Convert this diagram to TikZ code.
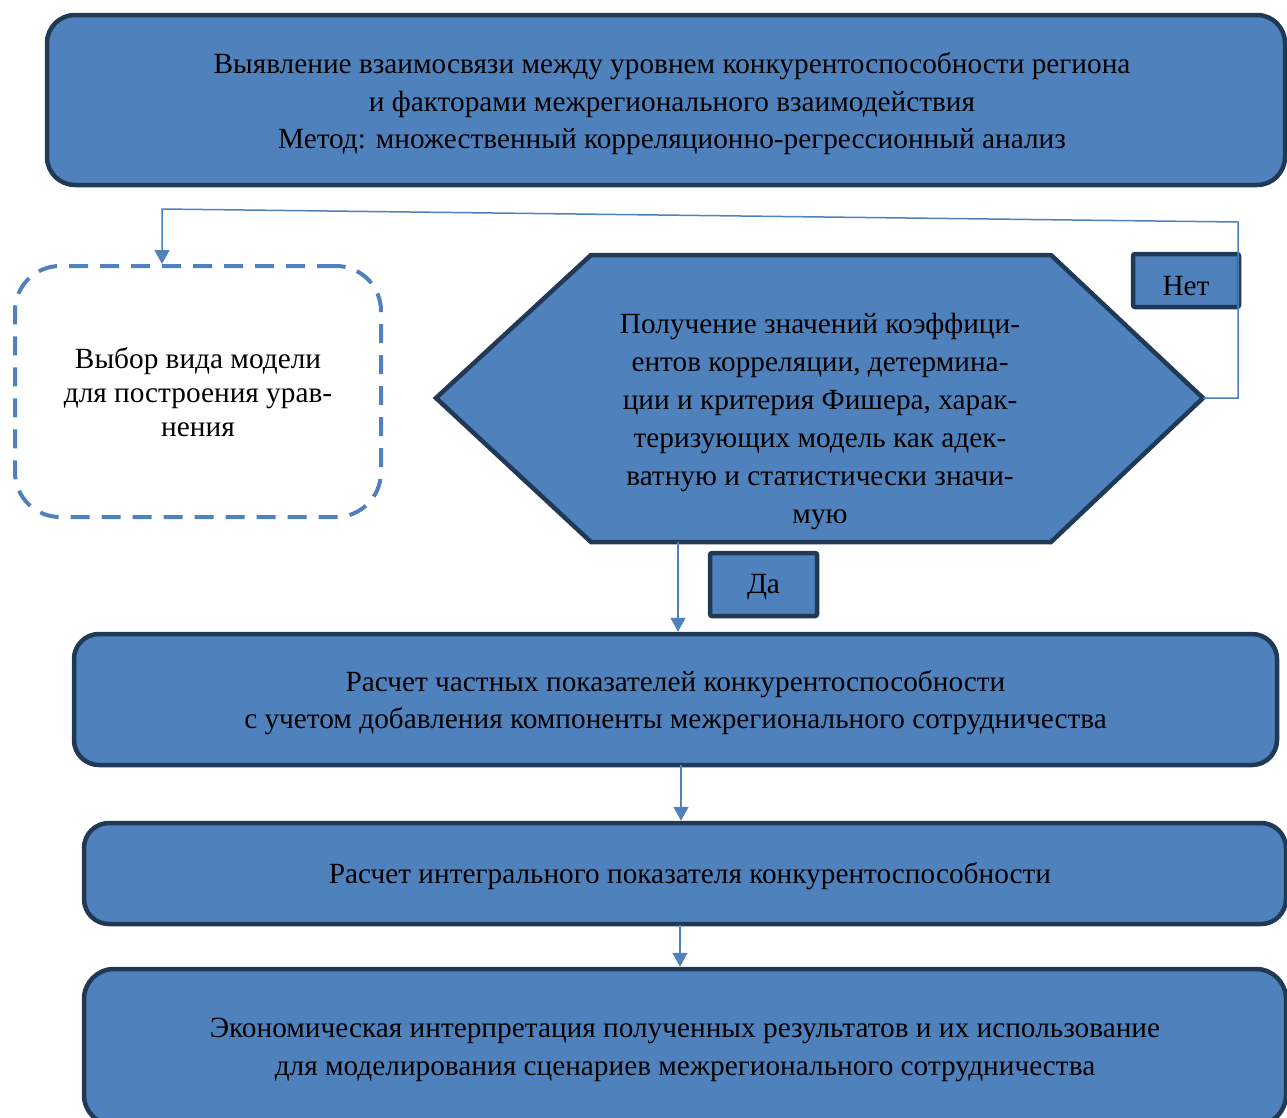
\documentclass[tikz,border=0pt]{standalone}
\usepackage{fontspec}
\setmainfont{Liberation Serif}
\usetikzlibrary{arrows.meta}
\definecolor{boxfill}{HTML}{4F81BD}
\definecolor{boxline}{HTML}{203A56}
\definecolor{arrowc}{HTML}{4F81BD}
\tikzset{
  mainbox/.style={draw=boxline, fill=boxfill, line width=4.5pt, rounded corners=28pt, inner sep=0pt},
  tagbox/.style={draw=boxline, fill=boxfill, line width=4.5pt, rounded corners=2pt, inner sep=0pt},
  dashbox/.style={draw=arrowc, line width=4pt, dash pattern=on 19pt off 12pt, rounded corners=45pt, inner sep=0pt},
  txt/.style={align=center, inner sep=0pt, font=\fontsize{29.3}{37.5}\selectfont},
  conn/.style={draw=arrowc, line width=1.5pt},
  arr/.style={conn, -{Triangle[width=15pt,length=14pt]}},
}
\begin{document}
\begin{tikzpicture}[x=1pt,y=-1pt]
\useasboundingbox (0,0) rectangle (1287,1117);
% top box
\node[mainbox, minimum width=1238pt, minimum height=170pt] (top) at (666,100) {};
\node[txt] (topT) at ([xshift=6pt,yshift=-4pt]top.center)
  {Выявление взаимосвязи между уровнем конкурентоспособности региона\\
   и факторами межрегионального взаимодействия\\
   Метод: множественный корреляционно-регрессионный анализ};
% dashed box
\node[dashbox, minimum width=366pt, minimum height=251pt] (model) at (198,391.5) {};
\node[txt, font=\fontsize{29.3}{34}\selectfont] (modelT) at ([yshift=-1pt]model.center)
  {Выбор вида модели\\для построения урав-\\нения};
% hexagon
\coordinate (hL) at (436,398);
\coordinate (hR) at (1203,398);
\draw[draw=boxline, fill=boxfill, line width=4.5pt, line join=miter]
  (hL) -- (591,255) -- (1051,255) -- (hR) -- (1051,542) -- (591,542) -- cycle;
\node[txt, font=\fontsize{29.3}{38}\selectfont] (hex) at (820,421)
  {Получение значений коэффици-\\ентов корреляции, детермина-\\ции и критерия Фишера, харак-\\теризующих модель как адек-\\ватную и статистически значи-\\мую};
\coordinate (hB) at (678,542);
% tags
\node[tagbox, minimum width=106pt, minimum height=53pt] (net) at (1186,280.5) {};
\node[txt] (netT) at ([yshift=-6pt]net.center) {Нет};
\node[tagbox, minimum width=107pt, minimum height=63pt] (da) at (763.5,584.5) {};
\node[txt] (daT) at ([yshift=-3pt]da.center) {Да};
% lower boxes
\node[mainbox, rounded corners=25pt, minimum width=1203pt, minimum height=131pt] (b2) at (675.5,699.5) {};
\node[txt] (b2T) at ([yshift=-3pt]b2.center)
  {Расчет частных показателей конкурентоспособности\\
   с учетом добавления компоненты межрегионального сотрудничества};
\node[mainbox, rounded corners=25pt, minimum width=1202pt, minimum height=101pt] (b3) at (685,873.5) {};
\node[txt] (b3T) at ([xshift=5pt,yshift=-3pt]b3.center)
  {Расчет интегрального показателя конкурентоспособности};
\node[mainbox, rounded corners=30pt, minimum width=1202pt, minimum height=156pt] (b4) at (685,1047) {};
\node[txt] (b4T) at ([yshift=-3pt]b4.center)
  {Экономическая интерпретация полученных результатов и их использование\\
   для моделирования сценариев межрегионального сотрудничества};
% connectors
\coordinate (c1) at (1238,398);
\coordinate (c2) at (1238,222);
\coordinate (c3) at (162,209);
\draw[arr] (hR) -- (c1) -- (c2) -- (c3) -- (c3 |- model.north);
\draw[arr] (hB) -- (hB |- b2.north);
\coordinate (a1) at (681,765);
\draw[arr] (a1) -- (a1 |- b3.north);
\coordinate (a2) at (680,925);
\draw[arr] (a2) -- (a2 |- b4.north);
\end{tikzpicture}
\end{document}
